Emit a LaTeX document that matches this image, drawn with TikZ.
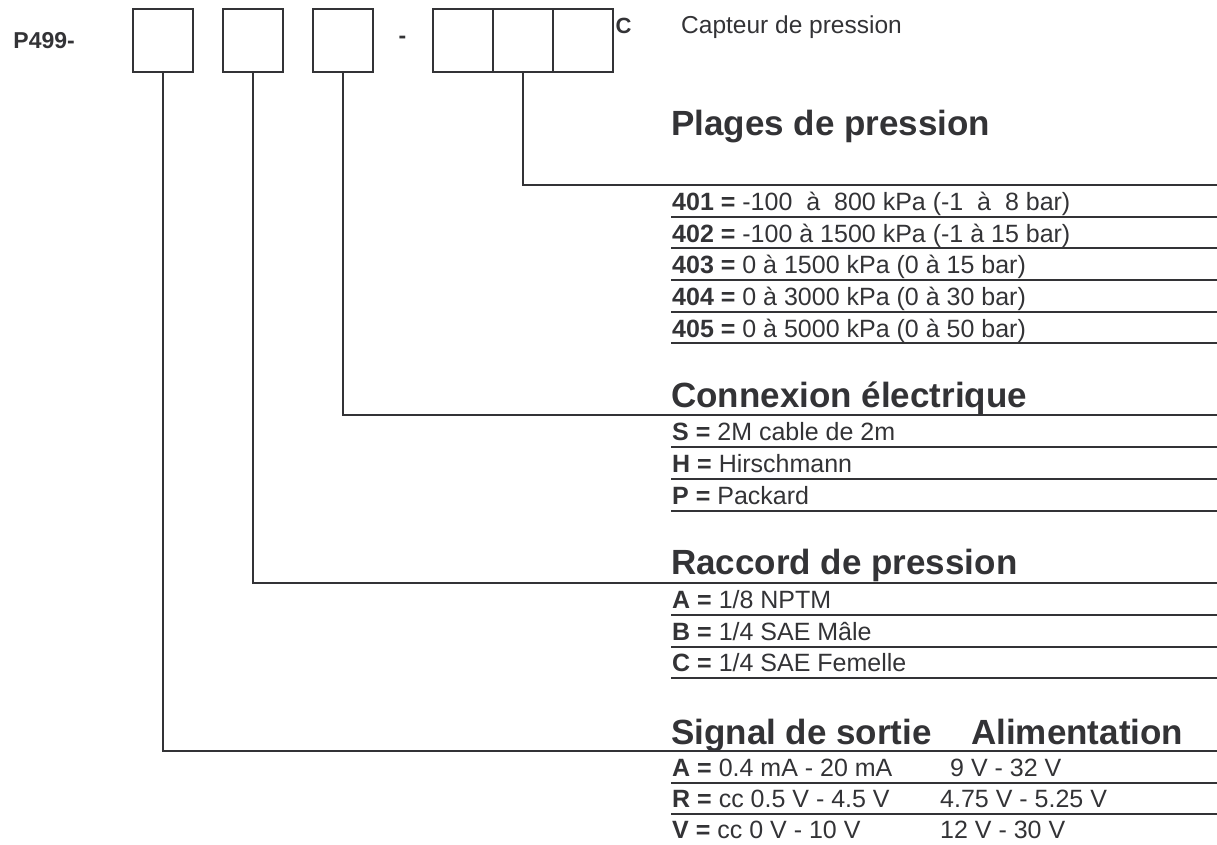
\documentclass[tikz,border=0pt]{standalone}
\usepackage{fontspec}
\setmainfont{Liberation Sans}
\definecolor{ink}{HTML}{333336}
\tikzset{
  codebox/.style={draw=ink, line width=2.4pt, minimum width=60pt, minimum height=63pt, inner sep=0pt, outer sep=0pt},
  conn/.style={draw=ink, line width=2pt},
  rule/.style={draw=ink, line width=1.7pt},
  title/.style={anchor=base west, inner sep=0pt, text=ink, font=\fontsize{35}{40}\selectfont\bfseries},
  row/.style={anchor=base west, inner sep=0pt, text=ink, font=\fontsize{25}{28}\selectfont},
  head/.style={anchor=base west, inner sep=0pt, text=ink, font=\fontsize{24.5}{28}\selectfont},
}
\begin{document}
\begin{tikzpicture}[x=1pt,y=-1pt]
\useasboundingbox (0,0) rectangle (1217,844);
% header
\node[anchor=base east, inner sep=0pt, text=ink, font=\fontsize{23}{26}\selectfont\bfseries] (p499) at (75,48.5) {P499-};
\node[codebox] (b1) at (163,40.3) {};
\node[codebox] (b2) at (253,40.3) {};
\node[codebox] (b3) at (343,40.3) {};
\node[anchor=center, inner sep=0pt, text=ink, font=\fontsize{23}{26}\selectfont\bfseries] (dash) at (402.5,40) {-};
\node[codebox] (g1) at (463,40.3) {};
\node[codebox] (g2) at (523,40.3) {};
\node[codebox] (g3) at (583,40.3) {};
\node[head, font=\fontsize{22}{26}\selectfont\bfseries] (cc) at (615.5,33) {C};
\node[head] (capt) at (681,33) {Capteur de pression};
% right ends of the connectors
\coordinate (r1) at (1217,185);
\coordinate (r2) at (1217,415);
\coordinate (r3) at (1217,583);
\coordinate (r4) at (1217,750.5);
\draw[conn] (g2.south) |- (r1);
\draw[conn] (b3.south) |- (r2);
\draw[conn] (b2.south) |- (r3);
\draw[conn] (b1.south) |- (r4);
% Plages de pression
\node[title] (t1) at (671,135) {Plages de pression};
\node[row] (p401) at (672,210.5) {\textbf{401 =} -100\ \ à\ \ 800 kPa (-1\ \ à\ \ 8 bar)};
\node[row] (p402) at (672,242.2) {\textbf{402 =} -100 à 1500 kPa (-1 à 15 bar)};
\node[row] (p403) at (672,273.8) {\textbf{403 =} 0 à 1500 kPa (0 à 15 bar)};
\node[row] (p404) at (672,305.5) {\textbf{404 =} 0 à 3000 kPa (0 à 30 bar)};
\node[row] (p405) at (672,337.1) {\textbf{405 =} 0 à 5000 kPa (0 à 50 bar)};
\foreach \y in {216.7,248.3,280,311.7,343.3} \draw[rule] (671,\y) -- (1217,\y);
% Connexion electrique
\node[title] (t2) at (671,407.5) {Connexion électrique};
\node[row] (cS) at (672,440.8) {\textbf{S =} 2M cable de 2m};
\node[row] (cH) at (672,472.5) {\textbf{H =} Hirschmann};
\node[row] (cP) at (672,504.3) {\textbf{P =} Packard};
\foreach \y in {447,479,511} \draw[rule] (671,\y) -- (1217,\y);
% Raccord de pression
\node[title] (t3) at (671,574) {Raccord de pression};
\node[row] (rA) at (672,608.8) {\textbf{A =} 1/8 NPTM};
\node[row] (rB) at (672,640.5) {\textbf{B =} 1/4 SAE Mâle};
\node[row] (rC) at (672,671.8) {\textbf{C =} 1/4 SAE Femelle};
\foreach \y in {615,647,678} \draw[rule] (671,\y) -- (1217,\y);
% Signal de sortie / Alimentation
\node[title] (t4) at (671,744) {Signal de sortie};
\node[title] (t5) at (971,744) {Alimentation};
\node[row] (sA) at (672,776.5) {\textbf{A =} 0.4 mA - 20 mA};
\node[row] (sR) at (672,807.3) {\textbf{R =} cc 0.5 V - 4.5 V};
\node[row] (sV) at (672,838) {\textbf{V =} cc 0 V - 10 V};
\node[row] (aA) at (950,776.5) {9 V - 32 V};
\node[row] (aR) at (940,807.3) {4.75 V - 5.25 V};
\node[row] (aV) at (940,838) {12 V - 30 V};
\foreach \y in {783,814} \draw[rule] (671,\y) -- (1217,\y);
\end{tikzpicture}
\end{document}
